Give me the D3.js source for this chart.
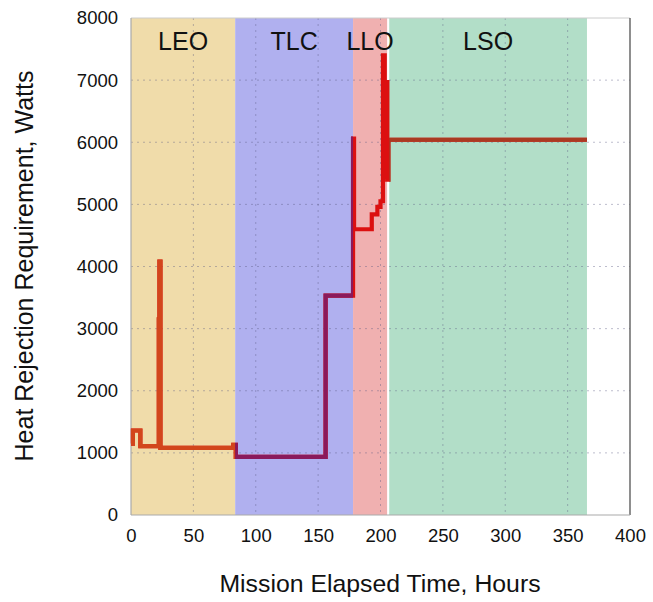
<!DOCTYPE html>
<html><head><meta charset="utf-8">
<script src="https://cdn.jsdelivr.net/npm/d3@7"></script>
<style>body{margin:0;background:#fff}svg{display:block}text{font-family:"Liberation Sans",Arial,sans-serif;fill:#111}</style>
</head><body><svg id="c" width="653" height="602"></svg>
<script>
// Mission phases [name, start hr, end hr]
const phaseNames = ["LEO","TLC","LLO","LSO"];
const phaseStart = [0, 83.5, 178, 207];
const phaseEnd   = [83.5, 178, 205.3, 365.5];
const phaseColors = ["#f0dcaa","#b0b0ef","#f0b0b0","#b2dec8"];
const lineColors  = ["#d2461c","#8a1a5c","#dc1010","#aa3a22"];

// Heat rejection profile (step-after): time (hours), watts
const timeHr = [0, 1.5, 7.5, 22.3, 22.8, 23.6, 82, 84, 156, 178, 178.8, 193, 197.5, 200, 202, 203.4, 204.5, 205.4, 206.3, 365.5];
const watts  = [1150, 1360, 1110, 3150, 4080, 1080, 1130, 935, 3530, 6060, 4600, 4840, 4960, 5050, 7400, 5450, 6970, 5400, 6040, 6040];

const xTicks = [0,50,100,150,200,250,300,350,400];
const yTicks = [0,1000,2000,3000,4000,5000,6000,7000,8000];

const svg = d3.select("#c");
const L=131, R=630, T=18, B=515;
const x = d3.scaleLinear().domain([0,400]).range([L,R]);
const y = d3.scaleLinear().domain([0,8000]).range([B,T]);

// phase backgrounds
svg.selectAll("rect.ph").data(phaseNames).join("rect").attr("class","ph")
  .attr("x",(d,i)=>x(phaseStart[i])).attr("width",(d,i)=>x(phaseEnd[i])-x(phaseStart[i]))
  .attr("y",T).attr("height",B-T).attr("fill",(d,i)=>phaseColors[i]);

// grid
svg.append("g").selectAll("line").data(yTicks.slice(1,-1)).join("line")
  .attr("x1",L).attr("x2",R).attr("y1",d=>y(d)).attr("y2",d=>y(d))
  .attr("stroke","rgba(90,90,130,0.4)").attr("stroke-width",1).attr("stroke-dasharray","2,4");
svg.append("g").selectAll("line").data(xTicks.slice(1,-1)).join("line")
  .attr("y1",T).attr("y2",B).attr("x1",d=>x(d)).attr("x2",d=>x(d))
  .attr("stroke","rgba(90,90,130,0.4)").attr("stroke-width",1).attr("stroke-dasharray","2,4");

// frame
svg.append("line").attr("x1",L).attr("x2",R).attr("y1",T).attr("y2",T).attr("stroke","#ccc");
svg.append("line").attr("x1",R).attr("x2",R).attr("y1",T).attr("y2",B).attr("stroke","#444").attr("stroke-width",1.2);
svg.append("line").attr("x1",L).attr("x2",R).attr("y1",B).attr("y2",B).attr("stroke","#aaa").attr("stroke-width",1.2);
svg.append("line").attr("x1",L).attr("x2",L).attr("y1",T).attr("y2",B).attr("stroke","#aaa").attr("stroke-width",1.2);

// axes (labels only)
const xa = svg.append("g").attr("transform",`translate(0,${B})`)
  .call(d3.axisBottom(x).tickValues(xTicks).tickSize(0).tickPadding(14));
xa.select(".domain").remove();
xa.selectAll("text").style("font-size","18.5px").attr("fill","#111");
const ya = svg.append("g").attr("transform",`translate(${L},0)`)
  .call(d3.axisLeft(y).tickValues(yTicks).tickSize(0).tickPadding(13).tickFormat(d3.format("d")));
ya.select(".domain").remove();
ya.selectAll("text").style("font-size","18.5px").attr("fill","#111");

// phase labels
svg.selectAll("text.pl").data(phaseNames).join("text").attr("class","pl")
  .attr("x",(d,i)=>x((phaseStart[i]+phaseEnd[i])/2)).attr("y",50)
  .attr("text-anchor","middle").style("font-size","25px").text(d=>d);

// line, coloured by phase via clip paths
const pts = timeHr.map((t,i)=>[t,watts[i]]);
const line = d3.line().x(d=>x(d[0])).y(d=>y(d[1])).curve(d3.curveStepAfter);
const defs = svg.append("defs");
svg.append("path").attr("d",line(pts)).attr("fill","none").attr("stroke",lineColors[2])
  .attr("stroke-width",4.2).attr("stroke-linejoin","miter");
[0,1,3].forEach(i=>{
  defs.append("clipPath").attr("id","cp"+i).append("rect")
    .attr("x",x(phaseStart[i])).attr("width",x(phaseEnd[i])-x(phaseStart[i])).attr("y",0).attr("height",602);
  svg.append("path").attr("d",line(pts)).attr("fill","none").attr("stroke",lineColors[i])
    .attr("stroke-width",4.2).attr("clip-path",`url(#cp${i})`);
});

// axis titles
svg.append("text").attr("x",380).attr("y",592).attr("text-anchor","middle")
  .style("font-size","24.8px").text("Mission Elapsed Time, Hours");
svg.append("text").attr("transform","translate(33,266) rotate(-90)").attr("text-anchor","middle")
  .style("font-size","25px").text("Heat Rejection Requirement, Watts");
</script></body></html>
